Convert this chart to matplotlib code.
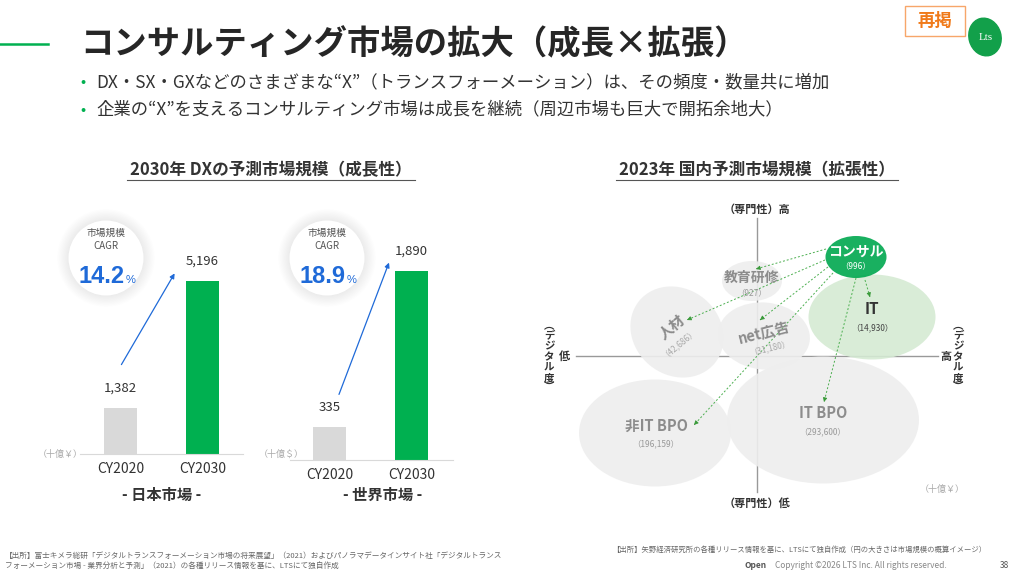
import matplotlib
matplotlib.use("Agg")
import matplotlib.pyplot as plt
from matplotlib.patches import Ellipse, Circle, Rectangle

plt.rcParams['font.family'] = ['Noto Sans CJK JP', 'DejaVu Sans']

# ---- data ----
title = "コンサルティング市場の拡大（成長×拡張）"
bullets = ["DX・SX・GXなどのさまざまな“X”（トランスフォーメーション）は、その頻度・数量共に増加",
           "企業の“X”を支えるコンサルティング市場は成長を継続（周辺市場も巨大で開拓余地大）"]
years = ["CY2020", "CY2030"]
japan_values = [1382, 5196]
world_values = [335, 1890]
japan_cagr = 14.2
world_cagr = 18.9
market_names = ["コンサル", "IT", "教育研修", "人材", "net広告", "非IT BPO", "IT BPO"]
market_sizes = [996, 14930, 927, 42686, 31180, 196159, 293600]
source_left = ["【出所】富士キメラ総研「デジタルトランスフォーメーション市場の将来展望」（2021）およびパノラマデータインサイト社「デジタルトランス",
               "フォーメーション市場 - 業界分析と予測」（2021）の各種リリース情報を基に、LTSにて独自作成"]
source_right = "【出所】矢野経済研究所の各種リリース情報を基に、LTSにて独自作成（円の大きさは市場規模の概算イメージ）"

GREEN = "#00b050"
DARK = "#333333"
GRAY_TXT = "#8c8c8c"
BLUE = "#1f6ad8"

fig = plt.figure(figsize=(10.2, 5.75), dpi=100)
W, H = 1020, 575


def bar_panel(values, x0, x1, base, px_per_unit, centers):
    h = 220
    ax = fig.add_axes([x0 / W, (H - base) / H, (x1 - x0) / W, h / H])
    step = centers[1] - centers[0]
    ax.set_xlim(-(centers[0] - x0) / step, 1 + (x1 - centers[1]) / step)
    ax.set_ylim(0, h / px_per_unit)
    ax.patch.set_visible(False)
    ax.bar([0, 1], values, width=33 / step, color=["#d9d9d9", GREEN])
    for i, v in enumerate(values):
        ax.annotate(f"{v:,}", (i, v), xytext=(0, 14), textcoords="offset points",
                    ha="center", va="center", fontsize=9.5, color=DARK)
    ax.set_xticks([0, 1])
    ax.set_xticklabels(years, fontsize=10, color=DARK)
    ax.tick_params(length=0, pad=6)
    ax.set_yticks([])
    for s in ["top", "left", "right"]:
        ax.spines[s].set_visible(False)
    ax.spines["bottom"].set_color("#d9d9d9")
    return ax


bar_panel(japan_values, 80, 243, 454, 173 / 5196, (120.5, 202.5))
bar_panel(world_values, 290, 453, 460, 0.1, (330, 411.5))

# overlay in pixel coordinates
ov = fig.add_axes([0, 0, 1, 1])
ov.set_xlim(0, W)
ov.set_ylim(H, 0)
ov.axis("off")
ov.patch.set_visible(False)

# header
ov.plot([0, 48], [44, 44], color=GREEN, lw=1.8)
ov.text(80, 45, title, fontsize=24, fontweight="bold", color="#262626", va="center")
for i, b in enumerate(bullets):
    y = 82 + 28 * i
    ov.text(80, y, "•", fontsize=11, color=GREEN, va="center")
    ov.text(96, y, b, fontsize=12.5, color=DARK, va="center")
ov.add_patch(Rectangle((905, 6), 60, 30, fill=False, ec="#f7a66a", lw=1))
ov.text(935, 21, "再掲", fontsize=12.5, fontweight="bold", color="#f07a1a", ha="center", va="center")
ov.add_patch(Ellipse((985, 37), 32, 38, angle=-15, color="#12a04a"))
ov.text(986, 38, "Lts", fontsize=8, color="white", ha="center", va="center", family="Liberation Serif")

# section titles
for cx, x0, x1, txt in [(271, 127, 415, "2030年 DXの予測市場規模（成長性）"),
                        (757, 616, 898, "2023年 国内予測市場規模（拡張性）")]:
    ov.text(cx, 170, txt, fontsize=12, fontweight="bold", color=DARK, ha="center", va="center")
    ov.plot([x0, x1], [180, 180], color="#555555", lw=0.8)

# CAGR bubbles
for cx, val in [(106, japan_cagr), (327, world_cagr)]:
    for k in range(10):
        ov.add_patch(Circle((cx, 258), 38 + 1.2 * k, color="#000000", alpha=0.006, lw=0))
    ov.add_patch(Circle((cx, 258), 37.5, color="white", lw=0))
    ov.text(cx, 233, "市場規模", fontsize=7, color="#555555", ha="center", va="center")
    ov.text(cx, 246, "CAGR", fontsize=7, color="#555555", ha="center", va="center")
    ov.text(cx + 19, 283, f"{val}", fontsize=17, fontweight="bold", color=BLUE, ha="right", va="baseline",
            family="Liberation Sans")
    ov.text(cx + 20, 283, "%", fontsize=8, color=BLUE, ha="left", va="baseline", family="Liberation Sans")

# growth arrows
ov.annotate("", xy=(176, 271), xytext=(120, 367),
            arrowprops=dict(arrowstyle="-|>", color=BLUE, lw=0.9, mutation_scale=7))
ov.annotate("", xy=(390, 260), xytext=(338, 397),
            arrowprops=dict(arrowstyle="-|>", color=BLUE, lw=0.9, mutation_scale=7))

ov.text(60, 454, "（十億￥）", fontsize=6.5, color="#aaaaaa", ha="center", va="center")
ov.text(281, 454, "（十億＄）", fontsize=6.5, color="#aaaaaa", ha="center", va="center")
ov.text(162, 495, "- 日本市場 -", fontsize=11, fontweight="bold", color=DARK, ha="center", va="center")
ov.text(383, 495, "- 世界市場 -", fontsize=11, fontweight="bold", color=DARK, ha="center", va="center")

# ---- bubble map ----
ov.plot([757, 757], [218, 492], color="#999999", lw=1, zorder=1)
ov.plot([576, 938], [356, 356], color="#999999", lw=1, zorder=1)
ov.text(757, 209, "（専門性）高", fontsize=8, fontweight="bold", color=DARK, ha="center", va="center")
ov.text(757, 503, "（専門性）低", fontsize=8, fontweight="bold", color=DARK, ha="center", va="center")
ov.text(564, 356, "低", fontsize=8, fontweight="bold", color=DARK, ha="center", va="center")
ov.text(946, 356, "高", fontsize=8, fontweight="bold", color=DARK, ha="center", va="center")
for x in (549, 958):
    ov.text(x, 357, "\n".join(["︵", "デ", "ジ", "タ", "ル", "度", "︶"]), fontsize=7.5, fontweight="bold",
            color=DARK, ha="center", va="center", linespacing=1.05)

# layout of each bubble: center x, center y, width, height, angle, face colour
bubble_layout = {
    "IT BPO": (823, 420, 192, 127, 0, "#eeeeee"),
    "非IT BPO": (655, 433, 152, 107, 0, "#eeeeee"),
    "人材": (677, 332, 98, 86, 40, "#eeeeee"),
    "net広告": (764, 336, 92, 67, 5, "#eeeeee"),
    "教育研修": (752, 281, 60, 40, 0, "#eeeeee"),
    "IT": (872, 317, 127, 85, 0, "#d5ead3"),
    "コンサル": (856, 257, 61, 42, 0, "#00a84f"),
}
label_style = {
    "コンサル": (0, 252, 266, "white", "white", 10, 0),
    "IT": (0, 309, 328, "#333333", "#444444", 11, 0),
    "教育研修": (0, 278, 293, GRAY_TXT, "#999999", 10, 0),
    "人材": (-5, 327, 341, GRAY_TXT, "#aaaaaa", 10.5, 40),
    "net広告": (0, 332, 347, GRAY_TXT, "#aaaaaa", 10.5, 14),
    "非IT BPO": (1, 426, 444, GRAY_TXT, "#999999", 10.5, 0),
    "IT BPO": (0, 413, 432, GRAY_TXT, "#999999", 10.5, 0),
}
for name in ["IT BPO", "非IT BPO", "人材", "net広告", "教育研修", "IT", "コンサル"]:
    cx, cy, w, h, ang, fc = bubble_layout[name]
    ov.add_patch(Ellipse((cx, cy), w, h, angle=ang, color=fc, alpha=0.9, lw=0, zorder=2))

for name, size in zip(market_names, market_sizes):
    cx = bubble_layout[name][0]
    dx, y1, y2, c1, c2, fs, rot = label_style[name]
    ov.text(cx + dx, y1, name, fontsize=fs, fontweight="bold", color=c1, ha="center", va="center",
            rotation=rot, zorder=4)
    ov.text(cx + dx + (6 if rot else 0), y2, f"（{size:,}）", fontsize=6, color=c2, ha="center",
            va="center", rotation=rot, zorder=4)

# dashed links from consulting
links = [((826, 249), (756, 269)), ((825, 260), (687, 320)), ((828, 267), (760, 320)),
         ((833, 273), (694, 425)), ((856, 278), (824, 402)), ((865, 280), (870, 297))]
for (xs, ys), (xe, ye) in links:
    ov.plot([xs, xe], [ys, ye], color="#4caf50", lw=0.7, ls=(0, (2, 2)), zorder=3)
    dx, dy = xe - xs, ye - ys
    n = (dx ** 2 + dy ** 2) ** 0.5
    ov.annotate("", xy=(xe, ye), xytext=(xe - 4 * dx / n, ye - 4 * dy / n),
                arrowprops=dict(arrowstyle="-|>", color="#3a9a3a", lw=0.6, mutation_scale=6), zorder=3)

ov.text(942, 489, "（十億￥）", fontsize=6.5, color="#aaaaaa", ha="center", va="center")

# footer
ov.text(5, 556, source_left[0], fontsize=5.5, color="#666666", va="center")
ov.text(5, 566, source_left[1], fontsize=5.5, color="#666666", va="center")
ov.text(612, 550, source_right, fontsize=5.3, color="#666666", va="center")
ov.text(745, 566, "Open", fontsize=6, fontweight="bold", color="#555555", va="center")
ov.text(775, 566, "Copyright ©2026 LTS Inc. All rights reserved.", fontsize=6, color="#888888", va="center")
ov.text(1000, 566, "38", fontsize=6, color="#555555", va="center")

fig.savefig("out.png", dpi=100)
